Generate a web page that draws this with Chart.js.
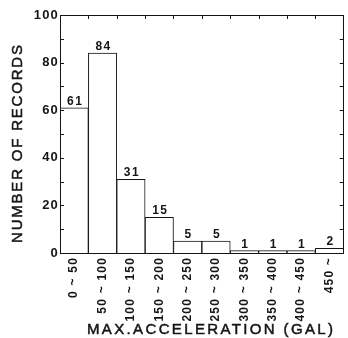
<!DOCTYPE html>
<html>
<head>
<meta charset="utf-8">
<script src="https://cdn.jsdelivr.net/npm/chart.js@4/dist/chart.umd.min.js"></script>
<style>
  html, body { margin: 0; padding: 0; background: #fff; }
  #wrap { width: 348px; height: 338px; position: relative; }
</style>
</head>
<body>
<div id="wrap"><canvas id="c" width="348" height="338"></canvas></div>
<script>
const categories = ['0 ~ 50', '50 ~ 100', '100 ~ 150', '150 ~ 200', '200 ~ 250',
                    '250 ~ 300', '300 ~ 350', '350 ~ 400', '400 ~ 450', '450 ~'];
const counts = [61, 84, 31, 15, 5, 5, 1, 1, 1, 2];
const yMin = 0, yMax = 100, yStep = 10, yLabelStep = 20;
const xTitle = 'MAX.ACCELERATION (GAL)';
const yTitle = 'NUMBER OF RECORDS';

const INK = '#151515';
const FONT = '"Liberation Sans", Arial, Helvetica, sans-serif';

function fittedText(ctx, text, cx, cy, targetWidth) {
  ctx.letterSpacing = '0px';
  const w = ctx.measureText(text).width;
  const sp = Math.max(0, (targetWidth - w) / (text.length - 1));
  ctx.letterSpacing = sp.toFixed(2) + 'px';
  ctx.textAlign = 'left';
  const x0 = cx - targetWidth / 2;
  ctx.fillText(text, x0, cy);
  ctx.strokeText(text, x0, cy);
}

const decor = {
  id: 'decor',
  beforeDraw(chart) {
    chart.ctx.letterSpacing = '1.2px';
  },
  afterDatasetsDraw(chart) {
    const ctx = chart.ctx;
    const a = chart.chartArea;
    const xs = chart.scales.x, ys = chart.scales.y;
    ctx.save();
    ctx.strokeStyle = INK;
    ctx.lineWidth = 1;
    // frame
    ctx.strokeRect(Math.round(a.left) + 0.5, Math.round(a.top) + 0.5,
                   Math.round(a.right - a.left) - 1, Math.round(a.bottom - a.top));
    // inward y ticks both sides
    ctx.beginPath();
    for (let v = yMin + yStep; v < yMax; v += yStep) {
      const y = Math.round(ys.getPixelForValue(v)) + 0.5;
      ctx.moveTo(a.left, y); ctx.lineTo(a.left + 4, y);
      ctx.moveTo(a.right, y); ctx.lineTo(a.right - 4, y);
    }
    // top ticks at class boundaries
    for (let i = 1; i < categories.length; i++) {
      const x = Math.round(xs.getPixelForValue(i - 0.5)) + 0.5;
      ctx.moveTo(x, a.top); ctx.lineTo(x, a.top + 4);
    }
    ctx.stroke();
    // value labels
    ctx.fillStyle = INK;
    ctx.font = 'bold 12px ' + FONT;
    ctx.letterSpacing = '1.5px';
    ctx.textAlign = 'center';
    ctx.textBaseline = 'alphabetic';
    const meta = chart.getDatasetMeta(0);
    meta.data.forEach((bar, i) => {
      ctx.fillText(String(counts[i]), bar.x + 1, bar.y - 3);
    });
    // axis titles
    ctx.font = '15px ' + FONT;
    ctx.lineWidth = 0.5;
    ctx.textBaseline = 'middle';
    fittedText(ctx, xTitle, 210, 330, 246);
    ctx.translate(18, 144);
    ctx.rotate(-Math.PI / 2);
    fittedText(ctx, yTitle, 0, 0, 198);
    ctx.restore();
  },
  afterDraw(chart) {
    chart.ctx.letterSpacing = '0px';
  }
};

new Chart(document.getElementById('c'), {
  type: 'bar',
  data: {
    labels: categories,
    datasets: [{
      data: counts,
      backgroundColor: '#ffffff',
      borderColor: INK,
      borderWidth: 1,
      barPercentage: 1,
      categoryPercentage: 1
    }]
  },
  options: {
    responsive: false,
    animation: false,
    devicePixelRatio: 1,
    layout: { padding: { top: 15, right: 1, left: 0, bottom: 0 } },
    plugins: { legend: { display: false }, tooltip: { enabled: false } },
    scales: {
      x: {
        grid: { display: false, drawTicks: false },
        border: { display: false },
        ticks: {
          color: INK,
          font: { family: FONT, size: 12, weight: 'bold' },
          minRotation: 90, maxRotation: 90,
          padding: 4,
          autoSkip: false
        },
        afterFit(s) { s.height = 85; }
      },
      y: {
        min: yMin, max: yMax,
        grid: { display: false, drawTicks: false },
        border: { display: false },
        ticks: {
          stepSize: yStep,
          color: INK,
          font: { family: FONT, size: 13, weight: 'bold' },
          padding: 1,
          callback: v => (v % yLabelStep === 0 ? String(v) : '')
        },
        afterFit(s) { s.width = 60; }
      }
    }
  },
  plugins: [decor]
});
</script>
</body>
</html>
